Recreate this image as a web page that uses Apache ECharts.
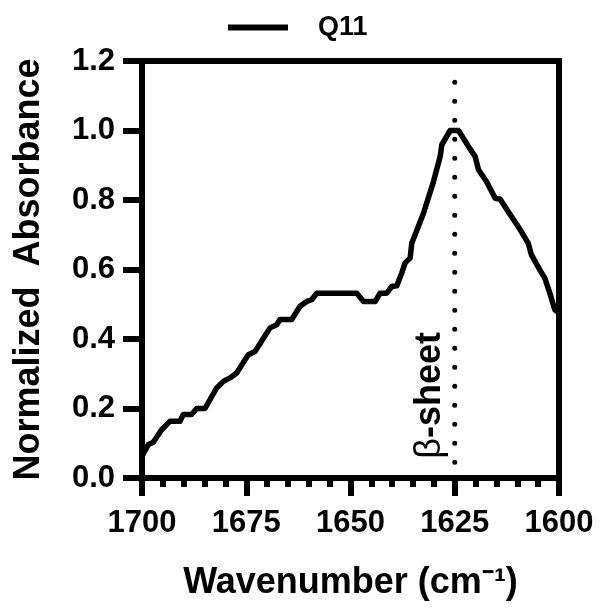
<!DOCTYPE html>
<html>
<head>
<meta charset="utf-8">
<script src="https://cdn.jsdelivr.net/npm/echarts@6/dist/echarts.min.js"></script>
<style>
html,body{margin:0;padding:0;background:#fff;}
#chart{width:603px;height:615px;}
</style>
</head>
<body>
<div id="chart"></div>
<script>
// Wavenumber (cm-1) values of the Q11 trace
const wavenumbers = [1700, 1698.5, 1697.3, 1695.3, 1693.3, 1690.9, 1690.1, 1688.1, 1686.9, 1684.9,
  1682.1, 1680.5, 1678.9, 1677.3, 1674.5, 1672.9, 1669.3, 1667.7, 1666.9, 1664.1,
  1662.1, 1660.5, 1659.3, 1658.1, 1648.5, 1646.9, 1644.1, 1642.9, 1641.3, 1640.1,
  1638.9, 1637.7, 1636.9, 1635.7, 1635.3, 1634.5, 1632.5, 1630.1, 1628.5, 1628.1,
  1626.1, 1624.1, 1621.5, 1620.1, 1619.3, 1617.4, 1615.3, 1614.1, 1612.2, 1609.8,
  1607.4, 1606.6, 1604.6, 1603.4, 1602.2, 1601.0, 1600];
// Normalized absorbance values of the Q11 trace
const absorbance = [0.063, 0.096, 0.103, 0.139, 0.163, 0.163, 0.183, 0.183, 0.200, 0.200,
  0.259, 0.278, 0.288, 0.302, 0.355, 0.364, 0.432, 0.441, 0.456, 0.456,
  0.494, 0.508, 0.513, 0.532, 0.532, 0.508, 0.508, 0.532, 0.532, 0.551,
  0.553, 0.590, 0.619, 0.633, 0.676, 0.700, 0.762, 0.853, 0.925, 0.959,
  1.000, 1.000, 0.950, 0.925, 0.887, 0.853, 0.805, 0.802, 0.767, 0.724,
  0.676, 0.642, 0.599, 0.575, 0.532, 0.484, 0.475];
// Beta-sheet marker line
const betaSheetPos = 1625;
const betaSheetRange = [0.045, 1.145];
const betaLabel = 'β-sheet';
const betaLabelAt = [1630.9, 0.238];
const seriesName = 'Q11';
const xTicks = [1600, 1625, 1650, 1675, 1700];
const yTicks = [0, 0.2, 0.4, 0.6, 0.8, 1.0, 1.2];

const chart = echarts.init(document.getElementById('chart'), null, {renderer: 'canvas'});
const font = 'Liberation Sans';
const curve = wavenumbers.map((w, i) => [w, absorbance[i]]);

chart.setOption({
  animation: false,
  backgroundColor: '#fff',
  grid: {left: 142, right: 44, top: 61, bottom: 137, show: true, borderColor: '#000', borderWidth: 6, backgroundColor: 'transparent'},
  legend: {
    data: [{name: seriesName, icon: 'rect'}], left: 228, top: 14, padding: 0,
    itemWidth: 60, itemHeight: 6,
    itemStyle: {color: '#000', borderWidth: 0},
    textStyle: {fontFamily: font, fontWeight: 'bold', fontSize: 27, color: '#000', padding: [0, 0, 0, 25]}
  },
  xAxis: {
    type: 'value', inverse: true,
    min: xTicks[0], max: xTicks[xTicks.length - 1], interval: 25,
    name: 'Wavenumber (cm⁻¹)', nameLocation: 'middle', nameGap: 87,
    nameTextStyle: {fontFamily: font, fontWeight: 'bold', fontSize: 36, color: '#000'},
    axisLine: {show: true, lineStyle: {color: '#000', width: 6}},
    axisTick: {show: true, length: 18, lineStyle: {color: '#000', width: 6}},
    minorTick: {show: true, splitNumber: 5, length: 9, lineStyle: {color: '#000', width: 6}},
    splitLine: {show: false}, minorSplitLine: {show: false},
    axisLabel: {fontFamily: font, fontWeight: 'bold', fontSize: 31, color: '#000', margin: 30,
      formatter: v => String(v)}
  },
  yAxis: {
    type: 'value', min: yTicks[0], max: yTicks[yTicks.length - 1], interval: 0.2,
    name: 'Normalized  Absorbance', nameLocation: 'middle', nameGap: 95,
    nameTextStyle: {fontFamily: font, fontWeight: 'bold', fontSize: 36, color: '#000'},
    axisLine: {show: true, lineStyle: {color: '#000', width: 6}},
    axisTick: {show: true, length: 19, lineStyle: {color: '#000', width: 6}},
    splitLine: {show: false},
    axisLabel: {fontFamily: font, fontWeight: 'bold', fontSize: 31, color: '#000', margin: 27,
      formatter: v => v.toFixed(1)}
  },
  series: [
    {
      name: seriesName, type: 'line', data: curve, symbol: 'none', silent: true,
      lineStyle: {color: '#000', width: 5.5, join: 'round'},
      itemStyle: {color: '#000'}, z: 3
    },
    {
      name: 'beta', type: 'line', symbol: 'none', silent: true,
      data: [[betaSheetPos, betaSheetRange[0]], [betaSheetPos, betaSheetRange[1]]],
      lineStyle: {color: '#000', width: 5, type: [0.01, 19], cap: 'round'},
      z: 2,
      markPoint: {
        symbol: 'circle', symbolSize: 1, itemStyle: {color: 'rgba(0,0,0,0)'}, silent: true,
        data: [{coord: betaLabelAt, value: betaLabel}],
        label: {
          show: true, position: 'inside', rotate: 90,
          formatter: '{g|β}-sheet',
          fontFamily: font, fontWeight: 'bold', fontSize: 36, color: '#000',
          rich: {g: {fontFamily: font, fontWeight: 'normal', fontSize: 36, color: '#000'}}
        }
      }
    }
  ]
});
</script>
</body>
</html>
